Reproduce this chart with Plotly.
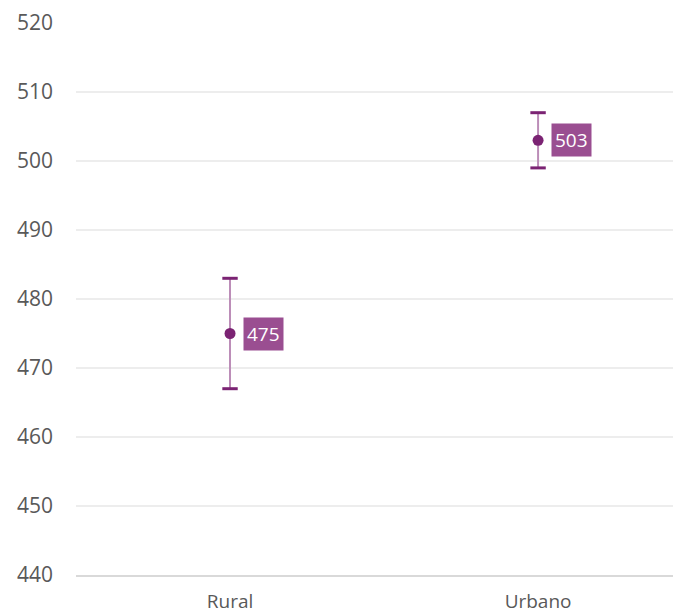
import plotly.graph_objects as go

categories = ["Rural", "Urbano"]
values = [475, 503]
err_low = [467, 499]
err_high = [483, 507]
y_ticks = [440, 450, 460, 470, 480, 490, 500, 510, 520]

DARK = "#7B2373"
LIGHT = "#BC8DB8"
BOX = "#9A4E91"
FONT = "Open Sans"

fig = go.Figure()

# vertical error lines (light)
fig.add_trace(go.Scatter(
    x=categories, y=values, mode="none",
    error_y=dict(type="data", symmetric=False,
                 array=[h - v for h, v in zip(err_high, values)],
                 arrayminus=[v - l for v, l in zip(values, err_low)],
                 color=LIGHT, thickness=2, width=0),
    hoverinfo="skip", showlegend=False,
))
# caps (dark)
fig.add_trace(go.Scatter(
    x=categories + categories, y=err_low + err_high, mode="markers",
    marker=dict(symbol="line-ew", size=11, line=dict(color=DARK, width=3)),
    hoverinfo="skip", showlegend=False,
))
# points
fig.add_trace(go.Scatter(
    x=categories, y=values, mode="markers",
    marker=dict(color=DARK, size=11),
    showlegend=False,
))

for c, v in zip(categories, values):
    fig.add_annotation(
        x=c, y=v, text=str(v), showarrow=False,
        xanchor="left", yanchor="middle", xshift=13,
        bgcolor=BOX, borderpad=3,
        font=dict(family=FONT, size=19, color="white"),
    )

fig.update_layout(
    width=673, height=607,
    margin=dict(l=68, r=0, t=15, b=40),
    paper_bgcolor="white", plot_bgcolor="white",
    font=dict(family=FONT, size=20, color="#595959"),
    xaxis=dict(
        type="category", range=[-0.5, 1.464], automargin=False,
        showgrid=False, zeroline=False,
        showline=True, linecolor="#D9D9D9", linewidth=2,
        ticks="", ticklabelstandoff=8,
        tickfont=dict(family=FONT, size=19, color="#595959"),
    ),
    yaxis=dict(
        range=[440, 520], tickvals=y_ticks, automargin=False,
        showgrid=True, gridcolor="#EDEDED", gridwidth=1.5,
        zeroline=False, showline=False, ticks="",
        ticklabelstandoff=22,
        tickfont=dict(family=FONT, size=21, color="#595959"),
    ),
)

fig.write_html("out.html")
